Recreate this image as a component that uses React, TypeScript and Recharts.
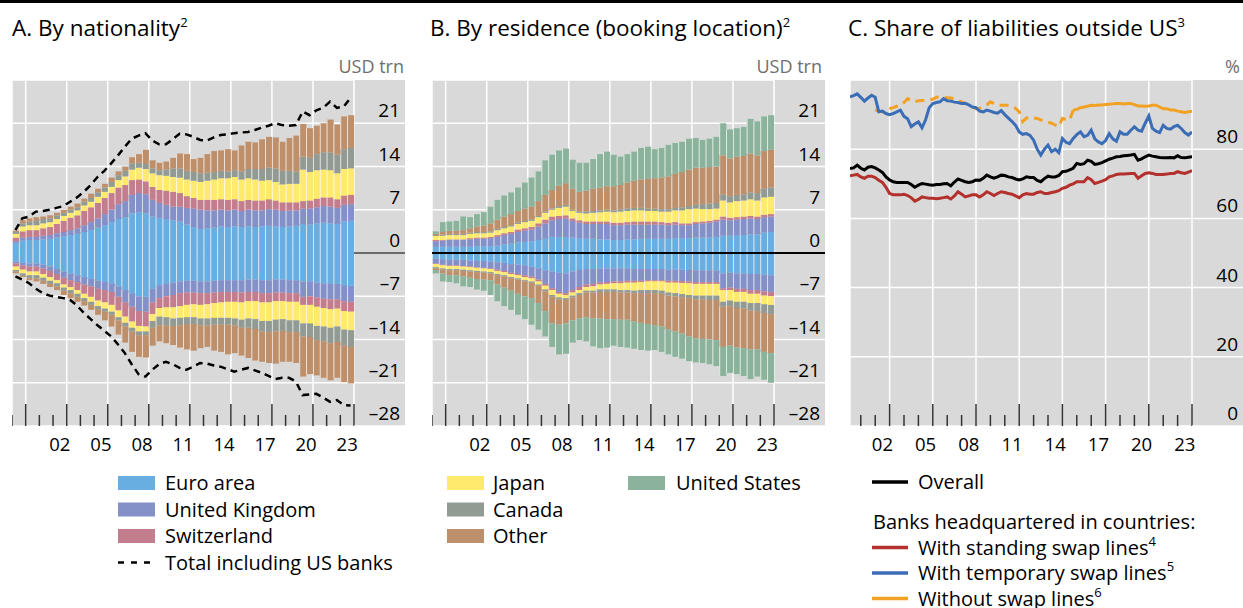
import React from "react";
import {
  ComposedChart,
  LineChart,
  Bar,
  Line,
  XAxis,
  YAxis,
  CartesianGrid,
  ReferenceLine,
} from "recharts";

const FONT = "'Open Sans', 'Noto Sans', sans-serif";
const BG = "#d9d9d9";
const PLOT_W = 342;
const PLOT_H = 346;
const AXIS_W = 51;
const AXIS_H = 34;
const CHART_W = PLOT_W + AXIS_W;
const CHART_H = PLOT_H + AXIS_H;
const TOP = 80;

const EURO = "#68aee1";
const UK = "#8490c8";
const CH = "#c47d8d";
const JP = "#ffea6e";
const CA = "#919b93";
const OTHER = "#bd8f6b";
const US = "#8bb39c";

const RED = "#b3302c";
const BLUE = "#3b6db6";
const ORANGE = "#f2a124";

// half-year categories, 1999H1 .. 2023H2
const halfYears = Array.from({ length: 50 }, (_, i) => `${1999 + Math.floor(i / 2)}H${(i % 2) + 1}`);
const xLabels = ["02", "05", "08", "11", "14", "17", "20", "23"];

// Panel A: by nationality, USD trn (assets positive, liabilities negative)
const aEuroPos = [1.6, 2.0, 2.1, 2.1, 2.2, 2.3, 2.5, 2.7, 2.9, 3.1, 3.4, 3.7, 4.1, 4.5, 5.0, 5.5, 5.8, 6.4, 6.6, 6.4, 5.9, 5.6, 5.5, 5.3, 5.1, 4.6, 4.2, 3.9, 4.0, 4.1, 4.3, 4.2, 4.3, 4.2, 4.3, 4.2, 4.3, 4.4, 4.3, 4.2, 4.3, 4.4, 4.7, 4.6, 4.8, 4.9, 4.8, 4.7, 5.1, 5.2];
const aUkPos = [0.3, 0.5, 0.5, 0.5, 0.6, 0.6, 0.7, 0.7, 0.8, 0.9, 1.1, 1.3, 1.5, 1.8, 2.0, 2.4, 2.6, 3.0, 3.1, 3.1, 2.7, 2.5, 2.3, 2.2, 2.4, 2.7, 3.0, 3.1, 2.9, 2.8, 2.7, 2.7, 2.7, 2.6, 2.7, 2.7, 2.6, 2.7, 2.7, 2.6, 2.6, 2.5, 2.5, 2.6, 2.6, 2.7, 2.7, 2.6, 2.7, 2.7];
const aChPos = [0.6, 1.0, 1.1, 1.1, 1.2, 1.3, 1.5, 1.8, 2.0, 2.1, 2.3, 2.4, 2.5, 2.6, 2.7, 2.7, 2.6, 2.4, 2.2, 2.1, 2.1, 2.1, 2.3, 2.4, 2.2, 1.9, 1.7, 1.6, 1.7, 1.7, 1.7, 1.7, 1.7, 1.6, 1.6, 1.6, 1.6, 1.6, 1.5, 1.4, 1.3, 1.3, 1.2, 1.3, 1.4, 1.4, 1.5, 1.4, 1.5, 1.5];
const aJpPos = [0.6, 0.8, 0.8, 0.8, 0.8, 0.8, 0.8, 0.8, 0.8, 0.8, 0.9, 0.9, 1.0, 1.0, 1.0, 1.2, 1.4, 1.7, 1.9, 2.0, 2.2, 2.4, 2.4, 2.4, 2.5, 2.7, 2.8, 2.9, 3.1, 3.3, 3.4, 3.5, 3.6, 3.5, 3.5, 3.4, 3.2, 3.1, 3.0, 2.9, 3.0, 3.0, 5.1, 4.6, 4.6, 4.5, 4.4, 4.2, 4.3, 4.3];
const aCaPos = [0.3, 0.5, 0.6, 0.7, 0.7, 0.6, 0.6, 0.5, 0.5, 0.5, 0.6, 0.6, 0.7, 0.7, 0.8, 0.8, 0.9, 1.0, 0.8, 0.8, 0.8, 0.8, 1.0, 1.4, 1.5, 1.4, 1.4, 1.4, 1.3, 1.2, 1.2, 1.1, 1.1, 1.3, 1.5, 1.7, 1.9, 2.0, 2.2, 2.2, 2.1, 2.0, 2.1, 2.3, 2.6, 2.8, 2.9, 3.0, 3.2, 3.3];
const aOtherPos = [0.2, 0.5, 0.5, 0.6, 0.4, 0.5, 0.4, 0.5, 0.5, 0.6, 0.5, 0.7, 0.6, 0.6, 0.7, 0.6, 0.7, 1.0, 1.4, 2.3, 1.3, 1.2, 1.3, 1.7, 2.4, 2.7, 2.1, 2.5, 3.0, 3.4, 3.3, 3.6, 3.2, 4.2, 4.4, 4.3, 4.8, 5.0, 5.0, 4.7, 5.3, 5.8, 5.3, 4.8, 4.6, 4.7, 5.3, 4.9, 5.3, 5.3];
const aTotalPos = [3.7, 5.6, 5.9, 6.7, 6.8, 7.0, 7.3, 7.6, 8.3, 9.0, 9.9, 11.0, 12.3, 13.3, 14.5, 15.8, 17.2, 18.5, 19.0, 19.4, 18.2, 17.6, 17.6, 18.4, 19.3, 19.2, 18.8, 18.3, 18.2, 18.7, 19.1, 19.2, 19.4, 19.5, 19.6, 19.9, 20.3, 20.6, 21.0, 20.7, 20.6, 20.7, 22.9, 22.3, 23.1, 23.5, 24.5, 23.5, 23.7, 25.1];

const aEuroNeg = [-1.4, -1.6, -1.7, -1.7, -1.9, -2.2, -2.6, -3.0, -3.3, -3.6, -3.9, -4.2, -4.5, -4.7, -4.9, -5.4, -6.0, -6.5, -7.0, -7.1, -5.8, -5.2, -5.0, -4.8, -4.6, -4.5, -4.5, -4.6, -4.6, -4.5, -4.4, -4.4, -4.4, -4.4, -4.3, -4.3, -4.4, -4.4, -4.3, -4.3, -4.4, -4.4, -4.6, -4.6, -4.8, -4.9, -5.0, -5.0, -5.2, -5.3];
const aUkNeg = [-0.3, -0.4, -0.5, -0.5, -0.6, -0.7, -0.8, -1.0, -1.1, -1.1, -1.2, -1.2, -1.3, -1.3, -1.4, -1.7, -2.0, -2.2, -2.4, -2.4, -2.2, -2.1, -2.0, -2.0, -1.9, -1.9, -1.9, -1.9, -1.9, -1.9, -1.9, -1.9, -1.9, -2.0, -2.0, -2.0, -2.1, -2.1, -2.1, -2.1, -2.1, -2.1, -2.5, -2.4, -2.4, -2.5, -2.5, -2.5, -2.6, -2.6];
const aChNeg = [-0.5, -0.7, -0.8, -0.8, -0.9, -1.0, -1.0, -1.1, -1.1, -1.3, -1.5, -1.7, -1.9, -2.0, -2.1, -2.2, -2.3, -2.4, -2.4, -2.4, -1.9, -1.6, -1.8, -2.0, -2.1, -2.0, -1.9, -1.9, -1.8, -1.7, -1.7, -1.6, -1.6, -1.6, -1.5, -1.5, -1.5, -1.5, -1.4, -1.4, -1.4, -1.4, -1.3, -1.4, -1.5, -1.5, -1.6, -1.5, -1.6, -1.6];
const aJpNeg = [-0.55, -0.6, -0.6, -0.6, -0.6, -0.6, -0.5, -0.5, -0.5, -0.6, -0.7, -0.8, -0.9, -1.0, -1.1, -1.1, -1.0, -1.0, -0.9, -0.8, -1.1, -1.4, -1.6, -1.8, -1.9, -2.0, -2.1, -2.2, -2.3, -2.4, -2.5, -2.6, -2.7, -2.8, -2.8, -2.9, -3.0, -3.0, -3.0, -2.9, -3.0, -3.0, -3.0, -3.0, -3.1, -3.0, -3.0, -2.9, -3.0, -3.0];
const aCaNeg = [-0.25, -0.4, -0.5, -0.5, -0.5, -0.5, -0.5, -0.5, -0.5, -0.5, -0.5, -0.5, -0.5, -0.5, -0.5, -0.5, -0.6, -0.6, -0.6, -0.6, -1.1, -1.4, -1.3, -1.2, -1.2, -1.1, -1.1, -1.1, -1.1, -1.1, -1.1, -1.1, -1.1, -1.3, -1.5, -1.6, -1.7, -1.8, -1.9, -1.9, -1.9, -1.9, -2.1, -2.2, -2.3, -2.4, -2.5, -2.5, -2.6, -2.7];
const aOtherNeg = [-0.3, -0.2, -0.3, -0.5, -0.5, -0.5, -0.6, -0.7, -0.8, -0.8, -0.7, -0.8, -0.9, -1.4, -1.9, -2.3, -2.6, -3.3, -3.5, -3.6, -2.9, -2.6, -2.9, -3.1, -3.6, -4.1, -4.3, -3.7, -3.5, -4.2, -4.4, -4.8, -4.5, -4.5, -4.9, -5.1, -4.9, -5.0, -5.2, -5.0, -4.8, -5.0, -6.5, -6.0, -5.7, -5.9, -6.0, -5.8, -5.9, -5.9];
const aTotalNeg = [-3.8, -4.3, -4.9, -5.8, -6.5, -6.9, -7.1, -7.3, -7.6, -8.5, -9.7, -10.7, -11.7, -12.6, -13.5, -14.8, -16.2, -18.0, -19.6, -20.0, -18.9, -18.0, -17.6, -18.0, -18.6, -18.9, -18.4, -17.8, -17.9, -18.2, -18.4, -18.8, -19.2, -18.9, -18.6, -19.0, -19.4, -19.9, -20.4, -20.2, -20.2, -20.8, -23.0, -22.9, -22.8, -23.4, -24.1, -23.8, -24.6, -24.7];

// Panel B: by residence (booking location), USD trn
const bEuroPos = [1.0, 1.0, 1.0, 1.0, 1.0, 1.0, 1.1, 1.1, 1.1, 1.2, 1.4, 1.5, 1.7, 1.8, 1.9, 2.1, 2.3, 2.6, 2.6, 2.6, 2.5, 2.4, 2.3, 2.3, 2.2, 2.2, 2.1, 2.1, 2.2, 2.2, 2.3, 2.3, 2.3, 2.3, 2.3, 2.4, 2.4, 2.4, 2.5, 2.5, 2.5, 2.6, 2.8, 2.8, 2.9, 2.9, 3.0, 3.0, 3.3, 3.4];
const bUkPos = [0.9, 1.0, 1.1, 1.1, 1.1, 1.2, 1.2, 1.2, 1.3, 1.4, 1.5, 1.6, 1.7, 1.8, 1.9, 2.2, 2.5, 2.7, 2.9, 3.0, 2.7, 2.5, 2.4, 2.4, 2.5, 2.5, 2.4, 2.4, 2.4, 2.4, 2.3, 2.3, 2.3, 2.3, 2.2, 2.2, 2.1, 2.1, 2.2, 2.3, 2.4, 2.5, 2.6, 2.5, 2.5, 2.6, 2.6, 2.5, 2.5, 2.5];
const bChPos = [0.2, 0.1, 0.1, 0.1, 0.1, 0.2, 0.2, 0.2, 0.2, 0.3, 0.3, 0.3, 0.4, 0.4, 0.4, 0.5, 0.6, 0.6, 0.5, 0.5, 0.4, 0.4, 0.4, 0.4, 0.4, 0.4, 0.4, 0.4, 0.4, 0.5, 0.5, 0.5, 0.5, 0.4, 0.4, 0.4, 0.3, 0.3, 0.3, 0.3, 0.3, 0.3, 0.5, 0.4, 0.4, 0.4, 0.4, 0.4, 0.4, 0.4];
const bJpPos = [0.65, 0.7, 0.7, 0.7, 0.7, 0.7, 0.7, 0.7, 0.7, 0.8, 0.8, 0.9, 0.9, 1.0, 1.0, 1.0, 1.1, 1.1, 1.3, 1.4, 1.2, 1.2, 1.3, 1.4, 1.5, 1.6, 1.7, 1.8, 1.8, 1.8, 1.8, 1.7, 1.7, 1.7, 1.8, 1.9, 2.1, 2.3, 2.2, 2.0, 1.9, 1.8, 2.6, 2.5, 2.6, 2.6, 2.7, 2.6, 2.8, 2.8];
const bCaPos = [0.15, 0.2, 0.2, 0.2, 0.2, 0.2, 0.2, 0.2, 0.2, 0.2, 0.2, 0.2, 0.2, 0.2, 0.2, 0.2, 0.2, 0.2, 0.3, 0.3, 0.2, 0.2, 0.3, 0.3, 0.3, 0.3, 0.3, 0.4, 0.4, 0.4, 0.4, 0.4, 0.4, 0.4, 0.4, 0.4, 0.5, 0.5, 0.6, 0.8, 0.9, 0.9, 1.0, 1.0, 1.0, 1.0, 1.1, 1.2, 1.4, 1.5];
const bOtherPos = [0.2, 0.4, 0.5, 0.5, 0.6, 0.7, 0.9, 1.0, 1.3, 1.5, 1.7, 1.8, 1.9, 2.0, 2.1, 2.4, 2.7, 3.0, 3.3, 3.5, 3.4, 3.2, 3.4, 3.6, 3.7, 3.8, 3.9, 3.9, 4.2, 4.4, 4.6, 4.8, 4.9, 5.1, 5.3, 5.5, 5.7, 5.9, 6.0, 5.9, 5.9, 5.9, 6.3, 6.1, 6.2, 6.2, 6.3, 6.1, 6.1, 6.1];
const bUsPos = [0.4, 1.6, 1.5, 1.6, 2.2, 1.8, 2.0, 2.2, 2.7, 3.2, 3.4, 3.5, 3.8, 4.2, 4.7, 4.8, 5.6, 5.7, 5.7, 5.6, 4.7, 4.7, 4.5, 4.8, 5.4, 5.6, 5.1, 4.6, 4.6, 4.7, 5.1, 5.2, 4.7, 4.8, 5.1, 5.0, 4.9, 5.0, 4.8, 4.5, 4.6, 4.8, 5.2, 4.7, 4.6, 4.7, 5.6, 5.5, 5.6, 5.6];

const bEuroNeg = [-0.9, -1.0, -1.1, -1.1, -1.1, -1.2, -1.3, -1.3, -1.4, -1.5, -1.6, -1.8, -1.9, -2.0, -2.2, -2.5, -2.8, -3.0, -3.2, -3.3, -3.0, -2.75, -2.6, -2.6, -2.5, -2.5, -2.5, -2.5, -2.5, -2.6, -2.6, -2.6, -2.6, -2.6, -2.7, -2.7, -2.7, -2.75, -2.8, -2.8, -2.8, -2.8, -3.3, -3.2, -3.3, -3.3, -3.4, -3.4, -3.5, -3.6];
const bUkNeg = [-0.8, -0.9, -0.9, -0.9, -1.0, -1.0, -1.0, -1.1, -1.1, -1.2, -1.3, -1.4, -1.5, -1.6, -1.6, -1.8, -2.2, -2.7, -3.1, -3.2, -3.0, -2.75, -2.5, -2.4, -2.3, -2.2, -2.1, -2.1, -2.0, -1.9, -1.9, -1.8, -1.8, -1.8, -1.8, -1.8, -1.85, -1.85, -1.9, -1.9, -1.9, -1.9, -2.4, -2.4, -2.5, -2.5, -2.6, -2.6, -2.7, -2.7];
const bChNeg = [-0.1, -0.1, -0.1, -0.1, -0.1, -0.1, -0.1, -0.1, -0.1, -0.2, -0.2, -0.2, -0.2, -0.3, -0.3, -0.3, -0.3, -0.3, -0.3, -0.3, -0.4, -0.5, -0.4, -0.4, -0.3, -0.3, -0.3, -0.3, -0.3, -0.3, -0.2, -0.2, -0.2, -0.2, -0.3, -0.3, -0.3, -0.3, -0.3, -0.3, -0.3, -0.3, -0.3, -0.4, -0.5, -0.5, -0.6, -0.6, -0.7, -0.7];
const bJpNeg = [-0.5, -0.5, -0.5, -0.5, -0.5, -0.5, -0.5, -0.5, -0.5, -0.5, -0.5, -0.5, -0.5, -0.5, -0.5, -0.5, -0.6, -0.8, -0.6, -0.5, -0.5, -0.5, -0.6, -0.7, -0.8, -0.9, -1.0, -1.1, -1.2, -1.3, -1.3, -1.4, -1.4, -1.5, -1.6, -1.7, -1.8, -1.9, -1.9, -1.9, -1.9, -1.9, -1.9, -1.7, -1.6, -1.6, -1.5, -1.5, -1.4, -1.4];
const bCaNeg = [-0.2, -0.2, -0.2, -0.2, -0.2, -0.2, -0.2, -0.2, -0.2, -0.2, -0.2, -0.2, -0.2, -0.2, -0.2, -0.2, -0.3, -0.3, -0.3, -0.3, -0.3, -0.3, -0.3, -0.3, -0.4, -0.4, -0.4, -0.4, -0.4, -0.4, -0.5, -0.5, -0.5, -0.5, -0.5, -0.5, -0.5, -0.5, -0.6, -0.6, -0.7, -0.7, -0.8, -0.9, -1.0, -1.1, -1.2, -1.3, -1.4, -1.5];
const bOtherNeg = [-0.25, -0.6, -0.8, -0.8, -0.9, -1.0, -1.1, -1.1, -1.1, -1.5, -1.8, -2.0, -2.3, -2.4, -2.5, -2.8, -3.2, -4.3, -4.1, -3.8, -3.7, -3.8, -4.0, -4.2, -4.3, -4.4, -4.4, -4.4, -4.4, -4.6, -4.8, -5.0, -5.2, -5.3, -5.5, -5.7, -5.9, -6.2, -6.3, -6.4, -6.4, -6.5, -6.5, -6.4, -6.4, -6.4, -6.3, -6.2, -6.3, -6.3];
const bUsNeg = [-0.55, -1.3, -1.1, -1.3, -1.6, -1.5, -1.7, -1.8, -2.4, -2.7, -3.0, -3.1, -3.4, -3.7, -4.3, -4.3, -4.1, -3.8, -4.8, -4.9, -3.6, -3.5, -3.9, -4.5, -4.8, -4.6, -4.3, -4.4, -4.5, -4.4, -4.4, -4.3, -4.0, -4.1, -4.0, -4.1, -4.05, -4.0, -3.9, -3.9, -4.0, -4.2, -4.7, -4.4, -4.3, -4.5, -4.8, -4.4, -4.5, -4.8];

// Panel C: share of liabilities outside US, %, quarterly 2000Q1..2023Q4 (plotted at quarter end)
const quarterEnds = Array.from({ length: 96 }, (_, k) => 2000.25 + k * 0.25);
const cOverall = [74.4, 74.6, 75.4, 74.5, 74.0, 74.8, 75.0, 74.6, 74.0, 73.3, 72.0, 71.1, 70.6, 70.4, 70.4, 70.4, 70.4, 69.8, 69.0, 69.6, 70.1, 69.9, 69.7, 69.6, 69.8, 69.8, 70.0, 70.1, 69.4, 70.5, 71.4, 71.0, 70.6, 70.4, 70.6, 71.1, 71.0, 71.6, 72.5, 72.0, 71.6, 72.0, 72.5, 72.4, 72.0, 71.8, 71.4, 71.1, 71.4, 72.0, 71.8, 71.8, 71.0, 70.6, 71.5, 72.2, 72.0, 72.0, 72.4, 73.5, 73.6, 74.0, 74.5, 75.9, 75.6, 75.8, 76.8, 76.5, 75.6, 75.8, 76.1, 76.6, 77.1, 77.4, 77.8, 77.9, 78.1, 78.2, 78.3, 78.5, 76.8, 77.2, 77.8, 78.3, 78.0, 77.8, 77.6, 77.5, 77.5, 77.6, 77.5, 78.1, 77.6, 77.5, 77.7, 77.8];
const cStanding = [72.3, 72.5, 72.7, 72.0, 71.6, 72.2, 72.2, 71.8, 71.0, 70.4, 69.0, 67.2, 66.8, 66.8, 66.8, 67.0, 66.6, 66.0, 65.0, 65.5, 66.2, 66.0, 65.8, 65.8, 65.7, 65.8, 66.0, 66.2, 65.6, 66.5, 67.7, 67.0, 66.2, 66.5, 66.8, 66.8, 66.2, 66.8, 67.7, 67.2, 66.6, 67.2, 67.7, 67.5, 67.2, 67.0, 66.5, 66.0, 66.8, 67.2, 67.0, 67.0, 67.5, 67.7, 67.2, 67.2, 67.5, 67.7, 68.0, 68.7, 69.0, 69.6, 70.0, 70.6, 70.6, 70.6, 71.8, 71.2, 70.1, 70.4, 70.8, 71.2, 72.0, 72.3, 72.7, 72.8, 72.8, 72.9, 73.0, 73.0, 71.6, 72.3, 73.0, 73.2, 73.0, 72.7, 72.7, 72.7, 72.8, 73.0, 73.0, 73.5, 73.2, 73.0, 73.4, 73.8];
const cTemporary = [95.1, 95.5, 96.0, 95.0, 93.9, 94.8, 95.6, 95.0, 90.8, 91.0, 90.3, 90.0, 90.3, 90.8, 91.3, 89.5, 88.8, 86.5, 87.3, 87.9, 86.2, 88.5, 92.0, 93.2, 93.5, 93.7, 94.6, 94.0, 93.9, 93.6, 93.5, 93.2, 93.3, 92.8, 92.2, 92.0, 91.0, 90.8, 91.3, 91.0, 90.6, 90.4, 91.2, 90.0, 89.0, 88.0, 86.9, 85.0, 84.3, 84.5, 84.0, 82.6, 80.0, 78.3, 80.0, 81.2, 79.3, 80.0, 79.0, 83.1, 82.0, 81.6, 83.1, 84.2, 85.0, 83.6, 84.0, 85.5, 83.0, 82.1, 81.6, 82.5, 84.5, 83.0, 82.3, 85.0, 84.3, 84.3, 85.5, 86.5, 85.5, 85.2, 87.5, 89.6, 86.0, 85.2, 84.8, 86.9, 86.0, 85.8, 86.5, 86.9, 86.0, 84.8, 84.1, 85.0];
const cWithout = [null, null, null, null, null, null, null, 91.3, 91.0, 90.8, 91.2, 91.7, 92.0, 92.4, 92.7, 93.5, 94.6, 94.0, 93.7, 94.0, 94.1, 94.1, 94.1, 94.5, 95.0, 95.1, 95.0, 94.9, 94.8, 94.5, 94.1, 93.7, 93.2, 92.8, 92.2, 91.7, 91.8, 92.2, 92.8, 93.7, 93.2, 92.7, 92.7, 92.7, 92.7, 92.5, 91.8, 90.8, 88.0, 89.0, 89.3, 89.0, 88.9, 88.5, 88.0, 87.8, 87.5, 87.0, 86.5, 88.9, 88.6, 88.4, 91.3, 91.5, 92.0, 92.2, 92.4, 92.7, 92.6, 92.8, 92.8, 92.9, 93.0, 93.1, 93.2, 93.2, 93.1, 93.2, 93.2, 92.9, 92.5, 92.5, 92.4, 92.5, 92.7, 92.7, 92.2, 91.7, 91.7, 91.3, 91.3, 91.0, 90.8, 90.6, 90.8, 91.0];
// the "without swap lines" series is drawn dashed up to this point, solid afterwards
const WITHOUT_SOLID_FROM = 62;

const usdTicks = [-28, -21, -14, -7, 0, 7, 14, 21];
const pctTicks = [0, 20, 40, 60, 80];
const barYears = Array.from({ length: 26 }, (_, i) => 1999 + i);
const lineYears = Array.from({ length: 24 }, (_, i) => 2001 + i);
const labelPos = xLabels.map((l) => 2000 + Number(l) + 0.5);
const majorYears = barYears.filter((y) => (y - 2000) % 3 === 0);

// t = centre of each half-year, used by the numeric year axis
const rowsA = halfYears.map((p, i) => ({
  p,
  t: 1999 + i * 0.5 + 0.25,
  euroPos: aEuroPos[i], ukPos: aUkPos[i], chPos: aChPos[i], jpPos: aJpPos[i], caPos: aCaPos[i], otherPos: aOtherPos[i],
  euroNeg: aEuroNeg[i], ukNeg: aUkNeg[i], chNeg: aChNeg[i], jpNeg: aJpNeg[i], caNeg: aCaNeg[i], otherNeg: aOtherNeg[i],
  totalPos: aTotalPos[i], totalNeg: aTotalNeg[i],
}));

const rowsB = halfYears.map((p, i) => ({
  p,
  t: 1999 + i * 0.5 + 0.25,
  euroPos: bEuroPos[i], ukPos: bUkPos[i], chPos: bChPos[i], jpPos: bJpPos[i], caPos: bCaPos[i], otherPos: bOtherPos[i], usPos: bUsPos[i],
  euroNeg: bEuroNeg[i], ukNeg: bUkNeg[i], chNeg: bChNeg[i], jpNeg: bJpNeg[i], caNeg: bCaNeg[i], otherNeg: bOtherNeg[i], usNeg: bUsNeg[i],
}));

const rowsC = quarterEnds.map((t, k) => ({
  t,
  overall: cOverall[k],
  standing: cStanding[k],
  temporary: cTemporary[k],
  withoutDash: k <= WITHOUT_SOLID_FROM ? cWithout[k] : null,
  withoutSolid: k >= WITHOUT_SOLID_FROM ? cWithout[k] : null,
}));

const seriesA = [
  { key: "euro", color: EURO },
  { key: "uk", color: UK },
  { key: "ch", color: CH },
  { key: "jp", color: JP },
  { key: "ca", color: CA },
  { key: "other", color: OTHER },
];
const seriesB = [...seriesA, { key: "us", color: US }];

// bar with a thin white separator on its left edge
const SepBar = (props: any) => {
  const { x, y, width, height, fill } = props;
  if (x == null || y == null || !width || !height) return null;
  const yy = height < 0 ? y + height : y;
  const hh = Math.abs(height);
  return (
    <g>
      <rect x={x} y={yy} width={width} height={hh} fill={fill} />
      <rect x={x} y={yy} width={0.9} height={hh} fill="#fff" fillOpacity={0.8} />
    </g>
  );
};

const YearTick = (props: any) => {
  const { x, y, payload } = props;
  const v = Number(payload.value);
  if (Number.isInteger(v)) {
    const major = (v - 2000) % 3 === 0;
    return <line x1={x} x2={x} y1={y} y2={y - (major ? 22 : 11)} stroke="#333" strokeWidth={1.5} />;
  }
  return (
    <text x={x} y={y + 25} textAnchor="middle" fontSize={18.5} fontFamily={FONT} fill="#000">
      {String(Math.floor(v)).slice(2)}
    </text>
  );
};

const makeValueTick = (zeroColor: string, zeroWidth: number) => (props: any) => {
  const { x, y, payload } = props;
  const v = Number(payload.value);
  const label = v < 0 ? `\u2013${-v}` : `${v}`;
  const zero = v === 0 && zeroColor !== "#fff";
  return (
    <g>
      <line x1={x} x2={x + AXIS_W} y1={y} y2={y} stroke={zero ? zeroColor : "#fff"} strokeWidth={zero ? zeroWidth : 1.5} />
      <text x={x + 46} y={y - 6} textAnchor="end" fontSize={19} fontFamily={FONT} fill="#000">
        {label}
      </text>
    </g>
  );
};

function BarPanel({ rows, series, zeroColor, zeroWidth, zeroInPlot, dashed }: any) {
  return (
    <ComposedChart
      width={CHART_W}
      height={CHART_H}
      data={rows}
      margin={{ top: 0, right: 0, bottom: 0, left: 0 }}
      stackOffset="sign"
      barCategoryGap={0}
      barGap={0}
    >
      <CartesianGrid xAxisId="grid" stroke="#fff" strokeWidth={1.5} />
      <XAxis
        xAxisId="yr"
        dataKey="t"
        type="number"
        domain={[1999, 2024]}
        allowDataOverflow
        ticks={[...barYears, ...labelPos]}
        interval={0}
        tick={YearTick}
        tickLine={false}
        axisLine={false}
        tickSize={0}
        tickMargin={0}
        height={AXIS_H}
      />
      <XAxis xAxisId="cat" dataKey="p" type="category" hide height={0} />
      <XAxis
        xAxisId="grid"
        dataKey="t"
        type="number"
        domain={[1999, 2024]}
        allowDataOverflow
        ticks={majorYears}
        interval={0}
        hide
        height={0}
      />
      <YAxis
        orientation="right"
        domain={[-28, 28]}
        ticks={usdTicks}
        interval={0}
        allowDataOverflow
        tick={makeValueTick(zeroColor, zeroWidth)}
        tickLine={false}
        axisLine={false}
        tickSize={0}
        tickMargin={0}
        width={AXIS_W}
      />
      {series.flatMap((s: any) => [
        <Bar key={s.key + "Pos"} xAxisId="cat" dataKey={s.key + "Pos"} stackId="s" fill={s.color} shape={SepBar} isAnimationActive={false} />,
        <Bar key={s.key + "Neg"} xAxisId="cat" dataKey={s.key + "Neg"} stackId="s" fill={s.color} shape={SepBar} isAnimationActive={false} />,
      ])}
      {dashed &&
        ["totalPos", "totalNeg"].map((k) => (
          <Line
            key={k}
            xAxisId="cat"
            dataKey={k}
            stroke="#000"
            strokeWidth={2.5}
            strokeDasharray="7 5"
            dot={false}
            isAnimationActive={false}
          />
        ))}
      {zeroInPlot && <ReferenceLine xAxisId="cat" y={0} stroke={zeroColor} strokeWidth={zeroWidth} />}
    </ComposedChart>
  );
}

function LinePanel() {
  return (
    <LineChart width={CHART_W} height={CHART_H} data={rowsC} margin={{ top: 0, right: 0, bottom: 0, left: 0 }}>
      <CartesianGrid xAxisId="grid" stroke="#fff" strokeWidth={1.5} />
      <XAxis
        dataKey="t"
        type="number"
        domain={[2000.25, 2024]}
        allowDataOverflow
        ticks={[...lineYears, ...labelPos]}
        interval={0}
        tick={YearTick}
        tickLine={false}
        axisLine={false}
        tickSize={0}
        tickMargin={0}
        height={AXIS_H}
      />
      <XAxis
        xAxisId="grid"
        dataKey="t"
        type="number"
        domain={[2000.25, 2024]}
        allowDataOverflow
        ticks={majorYears.filter((y) => y > 2000)}
        interval={0}
        hide
        height={0}
      />
      <YAxis
        orientation="right"
        domain={[0, 100]}
        ticks={pctTicks}
        interval={0}
        tick={makeValueTick("#fff", 1.5)}
        tickLine={false}
        axisLine={false}
        tickSize={0}
        tickMargin={0}
        width={AXIS_W}
      />
      <Line dataKey="withoutDash" stroke={ORANGE} strokeWidth={3} strokeDasharray="9 6" dot={false} isAnimationActive={false} />
      <Line dataKey="withoutSolid" stroke={ORANGE} strokeWidth={3} dot={false} isAnimationActive={false} />
      <Line dataKey="temporary" stroke={BLUE} strokeWidth={3} dot={false} isAnimationActive={false} />
      <Line dataKey="standing" stroke={RED} strokeWidth={3} dot={false} isAnimationActive={false} />
      <Line dataKey="overall" stroke="#000" strokeWidth={3} dot={false} isAnimationActive={false} />
    </LineChart>
  );
}

const legendA = [
  { label: "Euro area", color: EURO },
  { label: "United Kingdom", color: UK },
  { label: "Switzerland", color: CH },
];
const legendB1 = [
  { label: "Japan", color: JP },
  { label: "Canada", color: CA },
  { label: "Other", color: OTHER },
];
const legendC = [
  { label: "With standing swap lines", sup: "4", color: RED },
  { label: "With temporary swap lines", sup: "5", color: BLUE },
  { label: "Without swap lines", sup: "6", color: ORANGE },
];

const rowY = [483, 509.5, 536, 562.5];
const LEG_FS = 20;
const TITLE_FS = 22.5;

function Panel({ left, children }: any) {
  return (
    <div style={{ position: "absolute", left, top: TOP, width: CHART_W, height: CHART_H }}>
      <div style={{ position: "absolute", left: 0, top: 0, width: CHART_W, height: PLOT_H, background: BG }} />
      <div style={{ position: "absolute", left: 0, top: 0 }}>{children}</div>
    </div>
  );
}

export default function App() {
  const txt = { fontFamily: FONT, fill: "#000" };
  return (
    <div style={{ position: "absolute", left: 0, top: 0, width: 1243, height: 608, background: "#fff", overflow: "hidden" }}>
      <svg width={1243} height={608} style={{ position: "absolute", left: 0, top: 0 }}>
        <rect x={0} y={0} width={1243} height={3} fill="#000" />
        <text x={12} y={36} fontSize={TITLE_FS} {...txt}>
          A. By nationality<tspan dy={-9} fontSize={13}>2</tspan>
        </text>
        <text x={430} y={36} fontSize={TITLE_FS} {...txt}>
          B. By residence (booking location)<tspan dy={-9} fontSize={13}>2</tspan>
        </text>
        <text x={848} y={36} fontSize={TITLE_FS} {...txt}>
          C. Share of liabilities outside US<tspan dy={-9} fontSize={13}>3</tspan>
        </text>
        <text x={404} y={73} fontSize={18} textAnchor="end" fontFamily={FONT} fill="#6e6e6e">USD trn</text>
        <text x={822} y={73} fontSize={18} textAnchor="end" fontFamily={FONT} fill="#6e6e6e">USD trn</text>
        <text x={1240} y={73} fontSize={18} textAnchor="end" fontFamily={FONT} fill="#6e6e6e">%</text>

        {legendA.map((d, i) => (
          <g key={d.label}>
            <rect x={118} y={rowY[i] - 7} width={37} height={14} fill={d.color} />
            <text x={165} y={rowY[i] + 7} fontSize={LEG_FS} {...txt}>{d.label}</text>
          </g>
        ))}
        <line x1={118} x2={155} y1={rowY[3]} y2={rowY[3]} stroke="#000" strokeWidth={2.5} strokeDasharray="6 7" />
        <text x={165} y={rowY[3] + 7} fontSize={LEG_FS} {...txt}>Total including US banks</text>

        {legendB1.map((d, i) => (
          <g key={d.label}>
            <rect x={447} y={rowY[i] - 7} width={37} height={14} fill={d.color} />
            <text x={493} y={rowY[i] + 7} fontSize={LEG_FS} {...txt}>{d.label}</text>
          </g>
        ))}
        <rect x={628} y={rowY[0] - 7} width={37} height={14} fill={US} />
        <text x={676} y={rowY[0] + 7} fontSize={LEG_FS} {...txt}>United States</text>

        <line x1={872} x2={908} y1={482} y2={482} stroke="#000" strokeWidth={3.5} />
        <text x={918} y={489} fontSize={LEG_FS} {...txt}>Overall</text>
        <text x={873} y={529} fontSize={LEG_FS} {...txt}>Banks headquartered in countries:</text>
        {legendC.map((d, i) => (
          <g key={d.label}>
            <line x1={872} x2={908} y1={547.5 + i * 25.5} y2={547.5 + i * 25.5} stroke={d.color} strokeWidth={3.5} />
            <text x={918} y={554.5 + i * 25.5} fontSize={LEG_FS} {...txt}>
              {d.label}
              <tspan dy={-9} fontSize={13}>{d.sup}</tspan>
            </text>
          </g>
        ))}
      </svg>

      <Panel left={12}>
        <BarPanel rows={rowsA} series={seriesA} zeroColor="#444" zeroWidth={1.5} zeroInPlot={false} dashed />
      </Panel>
      <Panel left={432}>
        <BarPanel rows={rowsB} series={seriesB} zeroColor="#000" zeroWidth={2} zeroInPlot dashed={false} />
      </Panel>
      <Panel left={850}>
        <LinePanel />
      </Panel>
    </div>
  );
}
